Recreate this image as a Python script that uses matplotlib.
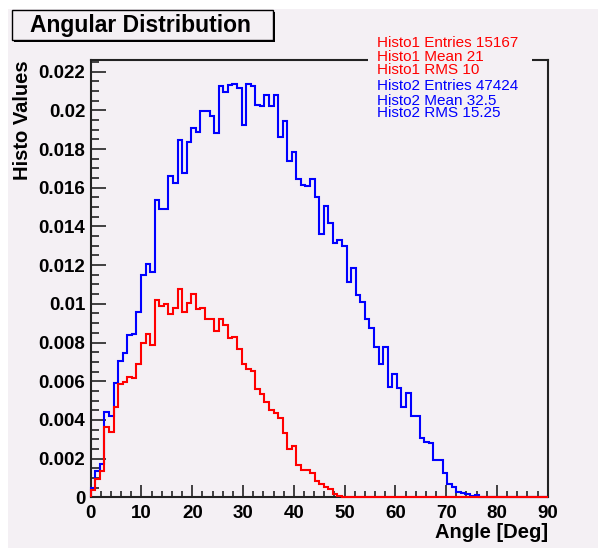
import numpy as np
import matplotlib
matplotlib.use('Agg')
import matplotlib.pyplot as plt
from matplotlib.patches import Rectangle

plt.rcParams['font.family'] = ['Liberation Sans', 'DejaVu Sans']

# bin contents, units of 1e-3 (100 bins from 0 to 90 deg)
histo1 = [0.36, 0.95, 1.36, 3.65, 3.36, 4.68, 5.85, 5.95, 6.21, 6.18,
          6.90, 7.99, 8.45, 7.87, 10.22, 9.88, 10.0, 9.48, 9.79, 10.74,
          9.59, 10.05, 10.53, 9.71, 9.76, 9.24, 9.19, 8.59, 9.19, 8.90,
          8.24, 8.28, 7.64, 6.90, 6.61, 6.52, 5.58, 5.35, 4.94, 4.51,
          4.37, 4.08, 3.34, 2.51, 2.65, 1.65, 1.41, 1.41, 1.24, 0.84,
          0.67, 0.53, 0.45, 0.15, 0.05, 0.02, 0.0, 0.04, 0.0, 0.03,
          0, 0, 0, 0, 0, 0, 0, 0, 0, 0,
          0, 0, 0, 0, 0, 0, 0, 0, 0, 0,
          0, 0, 0, 0, 0, 0, 0, 0, 0, 0,
          0, 0, 0, 0, 0, 0, 0, 0, 0, 0]
histo2 = [0.5, 1.36, 1.72, 4.40, 4.22, 5.92, 7.04, 7.47, 8.38, 8.45,
          9.59, 11.51, 12.08, 11.63, 15.39, 14.92, 14.92, 16.63, 16.25, 18.49,
          16.76, 18.35, 19.09, 18.86, 19.95, 19.95, 19.69, 18.83, 21.24, 20.95,
          21.29, 21.38, 21.15, 19.26, 21.36, 21.24, 20.29, 20.24, 20.77, 20.21,
          20.77, 18.62, 19.43, 17.37, 17.83, 16.47, 16.16, 16.11, 16.47, 15.51,
          13.63, 15.04, 14.18, 13.12, 13.29, 12.98, 11.12, 11.86, 10.45, 10.10,
          9.19, 8.73, 7.76, 6.87, 7.76, 5.70, 6.35, 5.63, 4.68, 5.37,
          4.20, 4.20, 3.05, 2.87, 2.82, 1.93, 1.93, 1.24, 0.69, 0.55,
          0.29, 0.24, 0.17, 0.07, 0.12, 0.03, 0.03, 0.03, 0.03, 0.0,
          0, 0, 0, 0, 0, 0, 0, 0, 0, 0]
xmin, xmax = 0.0, 90.0

stats1 = ['Histo1 Entries 15167', 'Histo1 Mean 21', 'Histo1 RMS 10']
stats2 = ['Histo2 Entries 47424', 'Histo2 Mean 32.5', 'Histo2 RMS 15.25']

xticks = [0, 10, 20, 30, 40, 50, 60, 70, 80, 90]
yticks = [0, 0.002, 0.004, 0.006, 0.008, 0.01, 0.012, 0.014, 0.016, 0.018, 0.02, 0.022]
yticklabels = ['0', '0.002', '0.004', '0.006', '0.008', '0.01', '0.012',
               '0.014', '0.016', '0.018', '0.02', '0.022']

W, H = 598, 548
padcol = '#f4f0f4'

def fx(px):
    return px / float(W)

def fy(py):
    return 1.0 - py / float(H)

fig = plt.figure(figsize=(W / 100., H / 100.), dpi=100, facecolor='white')

# canvas (white strip left and top like the screenshot)
fig.add_artist(Rectangle((fx(8), 0), 1 - fx(8), fy(9), transform=fig.transFigure,
                         facecolor=padcol, edgecolor='none', zorder=-10))

ax = fig.add_axes([fx(90.7), fy(497.3), fx(547.7) - fx(90.7), fy(60) - fy(497.3)])
ax.set_facecolor(padcol)

edges = np.linspace(xmin, xmax, len(histo1) + 1)
ax.stairs(np.array(histo2) * 1e-3, edges, baseline=0, color='#0000ff', lw=1.5,
          zorder=3, clip_on=False)
ax.stairs(np.array(histo1) * 1e-3, edges, baseline=0, color='#ff0000', lw=1.5,
          zorder=3.1, clip_on=False)

ax.set_xlim(xmin, xmax)
ax.set_ylim(0, 0.0226)

for s in ax.spines.values():
    s.set_color('#222222')
    s.set_linewidth(1.5)

ax.set_xticks(xticks)
ax.set_xticks(np.arange(0, 91, 2), minor=True)
ax.set_yticks(yticks)
ax.set_yticks(np.arange(0, 0.0226, 0.0005), minor=True)
ax.set_xticklabels([str(t) for t in xticks], fontsize=13.5, fontweight='bold')
ax.set_yticklabels(yticklabels, fontsize=13.5, fontweight='bold')
ax.tick_params(axis='both', which='both', direction='in', top=False, right=False,
               color='#222222', width=1.2)
ax.tick_params(axis='y', which='major', length=10.5, pad=4)
ax.tick_params(axis='y', which='minor', length=5.5)
ax.tick_params(axis='x', which='major', length=9, pad=5.5)
ax.tick_params(axis='x', which='minor', length=4.5)

ax.set_xlabel('Angle [Deg]', fontsize=14.5, fontweight='bold')
ax.xaxis.label.set(ha='right', va='baseline')
ax.xaxis.set_label_coords(1.0, (497.3 - 537.7) / 437.3)

ax.set_ylabel('Histo Values', fontsize=14.5, fontweight='bold')
ax.yaxis.label.set(ha='right', va='baseline', rotation_mode='anchor')
ax.yaxis.set_label_coords((28 - 90.7) / 457.0, 1.0)

# title box with shadow
fig.add_artist(Rectangle((fx(13.7), fy(42)), fx(275.3) - fx(13.7), fy(12) - fy(42),
                         transform=fig.transFigure, facecolor='black', edgecolor='none', zorder=5))
fig.add_artist(Rectangle((fx(11.7), fy(40)), fx(273.3) - fx(11.7), fy(10) - fy(40),
                         transform=fig.transFigure, facecolor=padcol, edgecolor='black',
                         lw=1, zorder=6))
fig.text(fx(140.5), fy(31.7), 'Angular Distribution', ha='center', va='baseline',
         fontsize=16.5, fontweight='bold', zorder=7)

# stats box (no border, hides the frame behind it)
fig.add_artist(Rectangle((fx(368), fy(118)), fx(532) - fx(368), fy(34) - fy(118),
                         transform=fig.transFigure, facecolor=padcol, edgecolor='none', zorder=5))
for txt, yb in zip(stats1, [47, 61.4, 74.3]):
    fig.text(fx(376.7), fy(yb), txt, color='#ff0000', fontsize=11, ha='left',
             va='baseline', zorder=7)
for txt, yb in zip(stats2, [90, 104.6, 117.3]):
    fig.text(fx(376.7), fy(yb), txt, color='#0000ff', fontsize=11, ha='left',
             va='baseline', zorder=7)

fig.savefig('out.png', dpi=100, facecolor=fig.get_facecolor())
plt.close(fig)
